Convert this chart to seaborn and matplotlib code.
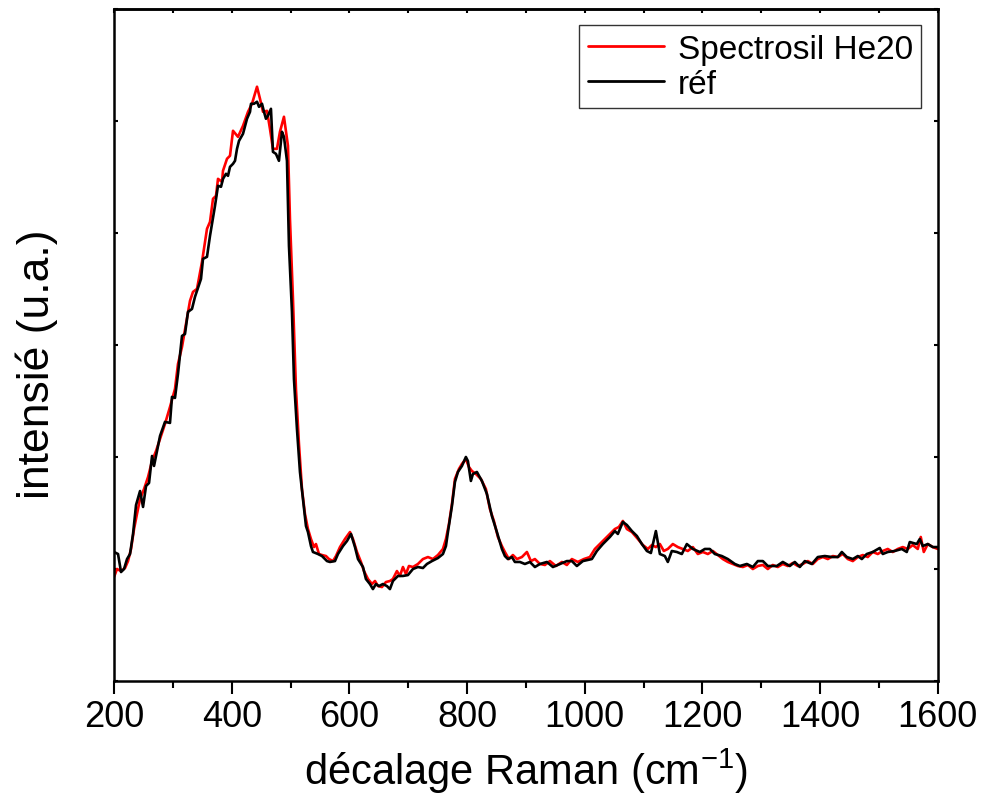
import numpy as np
import pandas as pd
import matplotlib
matplotlib.use("Agg")
import matplotlib.pyplot as plt
import seaborn as sns
from matplotlib.ticker import MultipleLocator, NullFormatter

# Raman shift (cm-1) and intensity (a.u.) - reference spectrum
ref_x = [200.0, 206.8, 211.9, 217.0, 222.1, 227.2, 232.3, 237.4, 244.2, 249.3, 254.4, 259.5, 264.6, 268.0,
         278.2, 286.6, 295.1, 298.5, 303.6, 308.7, 315.5, 320.6, 325.7, 332.5, 337.6, 347.8, 351.2, 358.0,
         363.1, 371.6, 376.7, 381.8, 385.2, 390.3, 393.7, 397.1, 402.2, 405.6, 409.0, 412.4, 419.2, 426.0,
         431.1, 432.8, 437.9, 443.0, 446.4, 451.5, 454.9, 458.2, 461.6, 466.7, 470.1, 475.2, 480.3, 485.4,
         488.8, 493.9, 497.3, 502.4, 505.8, 510.9, 516.0, 521.1, 526.2, 529.6, 534.7, 538.1, 546.6, 553.4,
         561.9, 567.0, 575.5, 580.6, 589.1, 595.9, 602.7, 609.5, 614.6, 623.1, 628.1, 634.9, 640.0, 645.1,
         650.2, 657.0, 663.8, 668.9, 674.0, 682.5, 691.0, 699.5, 708.0, 716.5, 725.0, 731.8, 740.3, 750.5,
         759.0, 764.1, 767.5, 774.3, 779.4, 784.5, 791.3, 798.0, 801.4, 806.5, 809.9, 816.7, 825.2, 833.7,
         842.2, 850.7, 859.2, 864.3, 869.4, 876.2, 881.3, 889.8, 898.3, 906.8, 915.3, 923.8, 935.7, 945.9,
         957.8, 969.6, 978.1, 986.6, 996.8, 1012.1, 1020.6, 1030.8, 1042.7, 1051.2, 1056.3, 1064.8, 1071.6,
         1080.1, 1088.6, 1097.1, 1105.6, 1112.4, 1120.9, 1127.7, 1136.1, 1141.2, 1148.0, 1156.5, 1165.0,
         1173.5, 1183.7, 1195.6, 1204.1, 1212.6, 1221.1, 1233.0, 1243.2, 1255.1, 1263.6, 1275.5, 1285.7,
         1294.2, 1302.7, 1311.1, 1326.4, 1336.6, 1348.5, 1357.0, 1365.5, 1374.0, 1385.9, 1396.1, 1408.0,
         1419.9, 1430.1, 1436.9, 1445.4, 1455.6, 1464.1, 1470.9, 1479.3, 1489.5, 1501.4, 1506.5, 1515.0,
         1526.9, 1538.8, 1547.3, 1552.4, 1564.3, 1569.4, 1574.5, 1583.0, 1591.5, 1600.0]
ref_y = [1.152, 1.134, 0.973, 1.000, 1.089, 1.134, 1.313, 1.571, 1.696, 1.554, 1.741, 1.768, 2.009, 1.920,
         2.188, 2.313, 2.304, 2.536, 2.527, 2.741, 3.080, 3.098, 3.295, 3.321, 3.429, 3.589, 3.768, 3.786,
         3.973, 4.241, 4.420, 4.411, 4.482, 4.527, 4.509, 4.589, 4.616, 4.643, 4.750, 4.821, 4.884, 5.018,
         5.080, 5.152, 5.152, 5.170, 5.125, 5.152, 5.080, 5.018, 5.045, 5.107, 4.723, 4.705, 4.643, 4.902,
         4.857, 4.643, 3.884, 3.295, 2.696, 2.250, 1.866, 1.625, 1.384, 1.330, 1.205, 1.152, 1.134, 1.116,
         1.071, 1.063, 1.071, 1.134, 1.205, 1.250, 1.313, 1.196, 1.089, 1.018, 0.911, 0.866, 0.821, 0.866,
         0.848, 0.866, 0.848, 0.821, 0.893, 0.938, 0.938, 0.946, 1.000, 1.018, 1.009, 1.045, 1.071, 1.098,
         1.134, 1.205, 1.330, 1.563, 1.777, 1.866, 1.920, 2.000, 1.964, 1.786, 1.848, 1.866, 1.786, 1.670,
         1.473, 1.330, 1.179, 1.116, 1.089, 1.107, 1.063, 1.063, 1.045, 1.063, 1.018, 1.045, 1.063, 1.018,
         1.045, 1.071, 1.071, 1.027, 1.071, 1.089, 1.161, 1.223, 1.286, 1.339, 1.313, 1.420, 1.393,
         1.339, 1.295, 1.223, 1.161, 1.143, 1.339, 1.134, 1.116, 1.063, 1.161, 1.152, 1.134,
         1.223, 1.179, 1.152, 1.179, 1.179, 1.134, 1.116, 1.089, 1.045, 1.027, 1.045, 1.018,
         1.071, 1.071, 1.027, 1.027, 1.063, 1.027, 1.063, 1.018, 1.071, 1.045, 1.107, 1.116,
         1.107, 1.107, 1.152, 1.107, 1.089, 1.116, 1.089, 1.134, 1.152, 1.188, 1.134, 1.152,
         1.161, 1.179, 1.152, 1.241, 1.223, 1.268, 1.205, 1.223, 1.196, 1.196]

# Spectrosil He20 spectrum
he_x = [200.0, 205.1, 211.9, 218.7, 223.8, 228.9, 234.0, 239.0, 244.2, 251.0, 257.8, 264.6, 271.4, 278.2,
        286.6, 295.1, 303.6, 308.7, 315.5, 322.3, 329.1, 334.2, 341.0, 349.5, 358.0, 363.1, 368.2, 373.3,
        376.7, 383.5, 385.2, 392.0, 397.1, 402.2, 410.7, 419.2, 427.7, 434.5, 443.0, 448.1, 453.2, 460.0,
        465.0, 470.1, 476.9, 482.0, 488.8, 495.6, 499.0, 504.1, 509.2, 514.3, 519.4, 524.5, 529.6, 534.7,
        539.8, 543.2, 548.3, 553.4, 560.2, 565.3, 572.1, 577.2, 584.0, 592.5, 601.0, 606.1, 612.9, 619.7,
        624.8, 631.6, 638.4, 643.5, 648.6, 655.3, 662.1, 668.9, 674.0, 680.8, 685.9, 691.0, 696.1, 701.2,
        708.0, 716.5, 725.0, 733.5, 742.0, 750.5, 759.0, 764.1, 769.2, 774.3, 779.4, 786.2, 791.3, 798.0,
        803.1, 808.2, 815.0, 823.5, 832.0, 838.8, 845.6, 852.4, 859.2, 864.3, 871.1, 877.9, 884.7, 893.2,
        901.7, 908.5, 915.3, 923.8, 932.3, 940.8, 951.0, 961.2, 969.6, 978.1, 988.3, 998.5, 1008.7, 1017.2,
        1025.7, 1034.2, 1042.7, 1051.2, 1058.0, 1064.8, 1071.6, 1080.1, 1090.3, 1098.8, 1107.3, 1114.1,
        1120.9, 1127.7, 1134.4, 1141.2, 1149.7, 1158.2, 1166.7, 1175.2, 1183.7, 1192.2, 1200.7, 1209.2,
        1217.7, 1226.2, 1234.7, 1243.2, 1251.7, 1260.2, 1268.7, 1277.2, 1285.7, 1294.2, 1302.7, 1311.1,
        1319.6, 1328.1, 1336.6, 1345.1, 1353.6, 1362.1, 1370.6, 1379.1, 1387.6, 1396.1, 1404.6, 1413.1,
        1421.6, 1430.1, 1438.6, 1447.1, 1455.6, 1464.1, 1472.6, 1481.0, 1489.5, 1498.0, 1506.5, 1515.0,
        1523.5, 1532.0, 1540.5, 1549.0, 1557.5, 1566.0, 1571.1, 1576.2, 1583.0, 1591.5, 1600.0]
he_y = [0.929, 1.000, 0.982, 1.009, 1.071, 1.179, 1.357, 1.491, 1.625, 1.714, 1.821, 1.964, 2.054, 2.161,
        2.295, 2.446, 2.607, 2.830, 2.982, 3.188, 3.393, 3.473, 3.500, 3.741, 4.036, 4.098, 4.304, 4.330,
        4.482, 4.455, 4.554, 4.661, 4.688, 4.911, 4.857, 4.955, 5.080, 5.152, 5.304, 5.196, 5.080, 5.089,
        4.929, 4.750, 4.750, 4.902, 5.036, 4.777, 4.125, 3.411, 2.607, 2.116, 1.714, 1.491, 1.357, 1.268,
        1.196, 1.223, 1.134, 1.125, 1.116, 1.089, 1.071, 1.116, 1.196, 1.268, 1.330, 1.268, 1.152, 1.063,
        0.982, 0.911, 0.866, 0.893, 0.848, 0.839, 0.884, 0.893, 0.911, 0.982, 0.938, 1.018, 0.955, 1.027,
        1.018, 1.045, 1.089, 1.107, 1.089, 1.125, 1.179, 1.268, 1.402, 1.580, 1.804, 1.893, 1.938, 1.982,
        1.911, 1.875, 1.848, 1.804, 1.714, 1.536, 1.429, 1.286, 1.205, 1.152, 1.089, 1.125, 1.089, 1.107,
        1.152, 1.071, 1.089, 1.045, 1.036, 1.071, 1.027, 1.063, 1.036, 1.089, 1.063, 1.089, 1.107, 1.179,
        1.223, 1.268, 1.313, 1.357, 1.375, 1.429, 1.357, 1.330, 1.268, 1.214, 1.179, 1.214,
        1.196, 1.223, 1.161, 1.179, 1.223, 1.196, 1.179, 1.161, 1.196, 1.134, 1.152, 1.134,
        1.161, 1.125, 1.089, 1.063, 1.045, 1.027, 1.018, 1.036, 1.000, 1.027, 1.036, 1.000,
        1.036, 1.018, 1.045, 1.027, 1.054, 1.027, 1.045, 1.071, 1.045, 1.089, 1.107, 1.089,
        1.116, 1.107, 1.134, 1.089, 1.071, 1.107, 1.125, 1.107, 1.152, 1.134, 1.161, 1.179,
        1.152, 1.179, 1.196, 1.179, 1.214, 1.179, 1.286, 1.152, 1.223, 1.196, 1.179]

series_labels = ["Spectrosil He20", "réf"]
x_ticks = [200, 400, 600, 800, 1000, 1200, 1400, 1600]

sns.set_theme(style="ticks")
plt.rcParams["font.family"] = ["Liberation Sans", "DejaVu Sans"]
plt.rcParams["mathtext.fontset"] = "custom"
plt.rcParams["mathtext.rm"] = "Liberation Sans"
plt.rcParams["mathtext.it"] = "Liberation Sans"
plt.rcParams["mathtext.default"] = "regular"
for k in ["text.color", "axes.labelcolor", "xtick.color", "ytick.color", "axes.edgecolor"]:
    plt.rcParams[k] = "black"

df = pd.concat([
    pd.DataFrame({"x": he_x, "y": he_y, "s": series_labels[0]}),
    pd.DataFrame({"x": ref_x, "y": ref_y, "s": series_labels[1]}),
], ignore_index=True)

fig = plt.figure(figsize=(9.83, 8.12), dpi=100)
ax = fig.add_axes([0.116, 0.160, 0.838, 0.828])
sns.lineplot(data=df, x="x", y="y", hue="s", hue_order=series_labels,
             palette=["#ff0000", "#000000"], estimator=None, sort=False,
             linewidth=1.9, ax=ax)

ax.set_xlim(200, 1600)
ax.set_ylim(0, 6)
ax.set_xticks(x_ticks)
ax.xaxis.set_minor_locator(MultipleLocator(100))
ax.yaxis.set_major_locator(MultipleLocator(1))
ax.yaxis.set_major_formatter(NullFormatter())

for s in ax.spines.values():
    s.set_linewidth(1.8)
    s.set_color("black")

ax.tick_params(axis="x", which="major", direction="out", length=9, width=1.5,
               labelsize=26, pad=4, colors="black")
ax.tick_params(axis="x", which="minor", direction="out", length=5, width=1.5)
ax.tick_params(axis="y", which="major", direction="in", length=3, width=1.5, right=True)

# mirrored inward ticks on the top spine
ax_top = ax.secondary_xaxis("top")
ax_top.set_xticks(x_ticks)
ax_top.xaxis.set_minor_locator(MultipleLocator(100))
ax_top.tick_params(axis="x", which="both", direction="in", length=3, width=1.5,
                   labeltop=False)
ax_top.spines["top"].set_linewidth(1.8)

ax.set_xlabel("décalage Raman (cm$^{-1}$)", fontsize=30, labelpad=8)
ax.set_ylabel("intensié (u.a.)", fontsize=32)
ax.yaxis.set_label_coords(-0.068, 0.472)

leg = ax.legend(loc="upper right", fontsize=24, frameon=True, fancybox=False,
                handlelength=2.3, labelspacing=0.12, borderpad=0.25,
                handletextpad=0.4, borderaxespad=0.5)
leg.get_frame().set_edgecolor("black")
leg.get_frame().set_linewidth(1.0)
for h in leg.get_lines():
    h.set_linewidth(2.0)

fig.savefig("out.png", dpi=100)
